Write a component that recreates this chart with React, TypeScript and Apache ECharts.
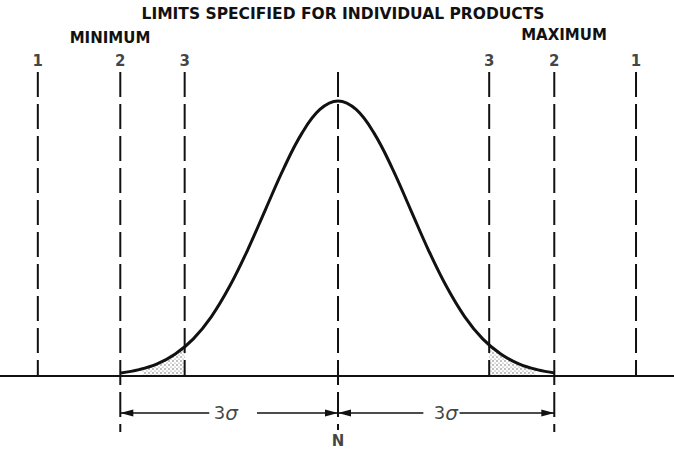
import React, { useEffect, useRef } from "react";
import * as echarts from "echarts";

// Normal curve, x in units of sigma, y relative to peak height
const curveX = [-3, -2.75, -2.5, -2.25, -2, -1.75, -1.5, -1.25, -1, -0.75, -0.5, -0.25, 0, 0.25, 0.5, 0.75, 1, 1.25, 1.5, 1.75, 2, 2.25, 2.5, 2.75, 3];
const curveY = [0.011, 0.023, 0.044, 0.08, 0.135, 0.216, 0.325, 0.458, 0.607, 0.755, 0.882, 0.969, 1.0, 0.969, 0.882, 0.755, 0.607, 0.458, 0.325, 0.216, 0.135, 0.08, 0.044, 0.023, 0.011];

// Shaded tails
const leftTailX = [-2.7, -2.5, -2.25, -2.12];
const leftTailY = [0.026, 0.044, 0.08, 0.106];
const rightTailX = [2.09, 2.25, 2.5, 2.73];
const rightTailY = [0.113, 0.08, 0.044, 0.024];

// Limit lines (dashed verticals)
const limitX = [-4.15, -3.01, -2.12, 0, 2.09, 2.99, 4.12];
const limitLabels = ["1", "2", "3", "", "3", "2", "1"];
const limitTop = [1.105, 1.105, 1.105, 1.105, 1.105, 1.105, 1.105];
const limitBottom = [0, -0.204, 0, -0.196, 0, -0.204, 0];

// Dimension arrows (3 sigma each side)
const dimY = -0.1345;
const dimSegments: [number, number][] = [
  [-1.78, -3.01],
  [-1.12, 0],
  [1.18, 0],
  [1.68, 2.99],
];
const dimTextX = [-1.55, 1.49];

const centerLabel = "N";
const centerLabelY = -0.236;
const limitLabelY = 1.145;

const titleText = "LIMITS SPECIFIED FOR INDIVIDUAL PRODUCTS";
const minText = "MINIMUM";
const maxText = "MAXIMUM";

const X_MIN = -4.673;
const X_MAX = 4.645;
const Y_MIN = -0.2655;
const Y_MAX = 1.367;

const INK = "#111";
const FONT = "DejaVu Sans";

export default function App() {
  const ref = useRef<HTMLDivElement>(null);
  useEffect(() => {
    document.body.style.margin = "0";
    if (!ref.current) return;
    const chart = echarts.init(ref.current, null, { renderer: "svg" });

    const dotSvg =
      "data:image/svg+xml;utf8," +
      encodeURIComponent(
        "<svg xmlns='http://www.w3.org/2000/svg' width='4' height='4'><rect width='4' height='4' fill='#fff'/><circle cx='1' cy='1' r='0.7' fill='#555'/><circle cx='3' cy='3' r='0.6' fill='#777'/></svg>"
      );

    const series: any[] = [];

    // baseline
    series.push({
      type: "line",
      data: [[X_MIN, 0], [X_MAX, 0]],
      symbol: "none",
      lineStyle: { color: INK, width: 2 },
      z: 3,
    });

    // shaded tails
    const tailStyle = {
      type: "line",
      symbol: "none",
      lineStyle: { width: 0 },
      areaStyle: {
        color: { image: dotSvg, repeat: "repeat", imageWidth: 4, imageHeight: 4 },
        opacity: 1,
      },
      z: 1,
    };
    series.push({ ...tailStyle, data: leftTailX.map((x, i) => [x, leftTailY[i]]) });
    series.push({ ...tailStyle, data: rightTailX.map((x, i) => [x, rightTailY[i]]) });

    // limit lines
    limitX.forEach((x, i) => {
      series.push({
        type: "line",
        data: [[x, limitTop[i]], [x, limitBottom[i]]],
        symbol: "none",
        lineStyle: { color: INK, width: 2, type: [25, 7] },
        z: 2,
      });
    });

    // normal curve
    series.push({
      type: "line",
      data: curveX.map((x, i) => [x, curveY[i]]),
      symbol: "none",
      smooth: 0.4,
      lineStyle: { color: INK, width: 3 },
      z: 4,
    });

    // dimension arrows: arrowhead tip sits exactly at the end point
    const arrowHead = "path://M0,13L3.5,26L-3.5,26ZM0,0";
    series.push({
      type: "line",
      data: [],
      symbol: "none",
      markLine: {
        silent: true,
        symbol: ["none", arrowHead],
        symbolSize: [7, 26],
        label: { show: false },
        lineStyle: { color: INK, width: 1.5, type: "solid" },
        data: dimSegments.map(([a, b]) => [
          { coord: [a, dimY] },
          { coord: [b, dimY] },
        ]),
      },
    });

    // limit number labels
    series.push({
      type: "scatter",
      symbolSize: 0,
      data: limitX.map((x) => [x, limitLabelY]),
      label: {
        show: true,
        position: "inside",
        formatter: (p: any) => limitLabels[p.dataIndex],
        color: INK,
        fontFamily: FONT,
        fontSize: 15,
        fontWeight: "bold",
      },
    });

    // 3 sigma texts
    series.push({
      type: "scatter",
      symbolSize: 0,
      data: dimTextX.map((x) => [x, dimY]),
      label: {
        show: true,
        position: "inside",
        formatter: "{a|3}{b|σ}",
        rich: {
          a: { color: INK, fontFamily: FONT, fontSize: 18 },
          b: { color: INK, fontFamily: FONT, fontSize: 20, fontStyle: "italic" },
        },
      },
    });

    // N label
    series.push({
      type: "scatter",
      symbolSize: 0,
      data: [[0, centerLabelY]],
      label: {
        show: true,
        position: "inside",
        formatter: centerLabel,
        color: INK,
        fontFamily: FONT,
        fontSize: 15,
        fontWeight: "bold",
      },
    });

    const headStyle = { fill: INK, fontFamily: FONT, fontSize: 15, fontWeight: "bold", textAlign: "center", textVerticalAlign: "middle" };
    chart.setOption({
      animation: false,
      backgroundColor: "#fff",
      grid: { left: 0, right: 0, top: 0, bottom: 0 },
      xAxis: { type: "value", min: X_MIN, max: X_MAX, show: false },
      yAxis: { type: "value", min: Y_MIN, max: Y_MAX, show: false },
      graphic: [
        { type: "text", x: 343, y: 14, style: { ...headStyle, fontSize: 15.5, text: titleText } },
        { type: "text", x: 110, y: 38, style: { ...headStyle, text: minText } },
        { type: "text", x: 564, y: 35, style: { ...headStyle, text: maxText } },
      ],
      series,
    });
    return () => chart.dispose();
  }, []);
  return <div ref={ref} style={{ width: 674, height: 449 }} />;
}
